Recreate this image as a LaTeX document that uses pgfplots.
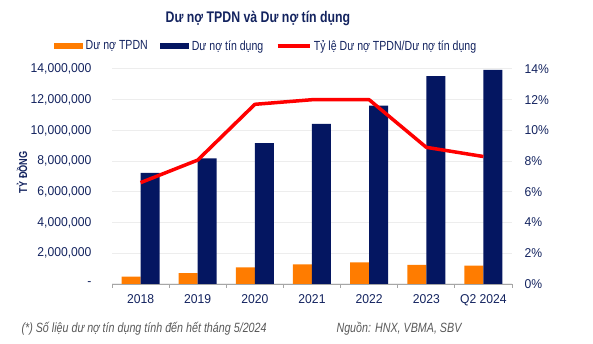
\documentclass[border=0pt]{standalone}
\usepackage{pgfplots}
\pgfplotsset{compat=1.18}
\usepackage{fontspec}
\setmainfont{Liberation Sans}[FakeStretch=0.8]
\newfontfamily\numfont{Liberation Sans}[FakeStretch=0.95]
\definecolor{navy}{HTML}{041661}
\definecolor{txt}{HTML}{13235F}
\definecolor{orng}{HTML}{FF7C00}
\definecolor{gridc}{HTML}{EDEDED}
\definecolor{axc}{HTML}{A6A6A6}
\definecolor{foot}{HTML}{595959}
\begin{document}
\begin{tikzpicture}
\path[use as bounding box] (0,0) rectangle (593bp,344bp);
\node[text=txt, font=\bfseries\fontsize{15.4bp}{18bp}\selectfont] at (258bp,326bp) {Dư nợ TPDN và Dư nợ tín dụng};
\begin{axis}[
  at={(112bp,60bp)}, anchor=south west, scale only axis,
  width=400bp, height=215bp,
  xmin=-0.5, xmax=6.5, ymin=0, ymax=14000000,
  scaled y ticks=false,
  axis x line*=bottom, axis y line*=left,
  y axis line style={draw=none},
  x axis line style={axc, line width=0.8bp},
  ytick={0,2000000,4000000,6000000,8000000,10000000,12000000,14000000},
  yticklabels={{-\hspace{8bp}},{2,000,000},{4,000,000},{6,000,000},{8,000,000},{10,000,000},{12,000,000},{14,000,000}},
  ytick style={draw=none},
  ymajorgrids, grid style={gridc, line width=1bp},
  xtick={0,1,2,3,4,5,6},
  xticklabels={2018,2019,2020,2021,2022,2023,Q2 2024},
  minor xtick={-0.5,0.5,1.5,2.5,3.5,4.5,5.5,6.5},
  major tick length=0pt, minor tick length=4bp, tick align=outside,
  xtick style={axc, line width=0.8bp},
  ticklabel style={text=txt, font=\numfont\fontsize{12.8bp}{15bp}\selectfont},
  yticklabel style={xshift=-17bp},
  xticklabel style={yshift=-7bp},
  /pgf/number format/assume math mode=true,
  ylabel={TỶ ĐỒNG},
  ylabel style={at={(axis description cs:-0.225,0.52)}, anchor=center, text=txt, font=\bfseries\fontsize{11.5bp}{13bp}\selectfont},
  ybar=0pt, bar width=19bp,
  legend columns=3,
  legend style={at={(axis description cs:-0.145,1.107)}, anchor=west, draw=none, fill=none, inner sep=0pt,
    font=\fontsize{13.2bp}{16bp}\selectfont, text=txt,
    /tikz/every even column/.append style={column sep=10bp},
    nodes={inner sep=2.5bp}},
]
\addplot[fill=orng, draw=none, legend image code/.code={\fill[orng] (0bp,-3bp) rectangle (29bp,3bp);}]
  coordinates {(0,480000) (1,700000) (2,1090000) (3,1280000) (4,1410000) (5,1240000) (6,1190000)};
\addlegendentry{Dư nợ TPDN}
\addplot[fill=navy, draw=none, legend image code/.code={\fill[navy] (0bp,-3bp) rectangle (29bp,3bp);}]
  coordinates {(0,7230000) (1,8180000) (2,9180000) (3,10420000) (4,11610000) (5,13540000) (6,13950000)};
\addlegendentry{Dư nợ tín dụng}
\addlegendimage{legend image code/.code={\draw[red, line width=3.5bp] (0bp,0bp) -- (32bp,0bp);}}
\addlegendentry{Tỷ lệ Dư nợ TPDN/Dư nợ tín dụng}
\end{axis}
\begin{axis}[
  at={(112bp,60bp)}, anchor=south west, scale only axis,
  width=400bp, height=215bp,
  xmin=-0.5, xmax=6.5, ymin=0, ymax=14,
  axis x line=none, axis y line*=right,
  y axis line style={draw=none},
  ytick={0,2,4,6,8,10,12,14},
  yticklabels={0\%,2\%,4\%,6\%,8\%,10\%,12\%,14\%},
  ytick style={draw=none},
  ticklabel style={text=txt, font=\numfont\fontsize{12.8bp}{15bp}\selectfont},
  yticklabel style={xshift=9bp},
]
\addplot[red, line width=3.5bp, line join=round, mark=none]
  coordinates {(0,6.6) (1,8.07) (2,11.7) (3,12.0) (4,12.0) (5,8.9) (6,8.3)};
\end{axis}
\node[anchor=west, text=foot, font=\itshape\fontsize{13.4bp}{15bp}\selectfont] at (18bp,15bp) {(*) Số liệu dư nợ tín dụng tính đến hết tháng 5/2024};
\node[anchor=west, text=foot, font=\itshape\fontsize{13.4bp}{15bp}\selectfont] at (333bp,15bp) {Nguồn: HNX, VBMA, SBV};
\end{tikzpicture}
\end{document}
